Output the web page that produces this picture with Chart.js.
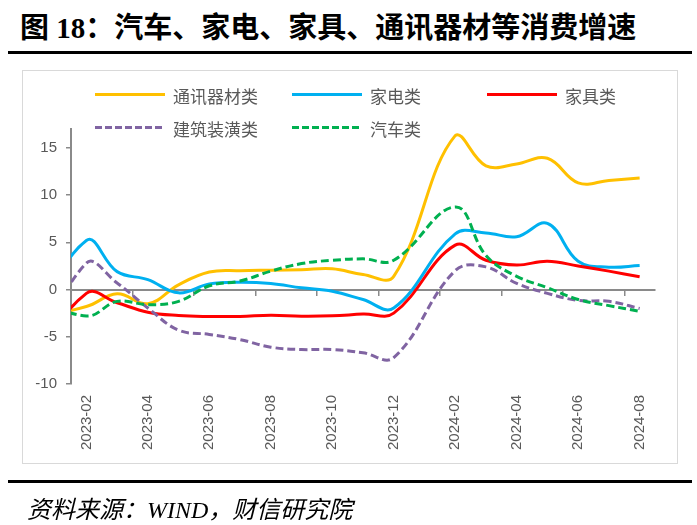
<!DOCTYPE html>
<html>
<head>
<meta charset="utf-8">
<script src="https://cdn.jsdelivr.net/npm/chart.js@4.4.1/dist/chart.umd.min.js"></script>
<style>
  html, body { margin: 0; padding: 0; background: #fff; }
  body { width: 697px; height: 525px; position: relative; overflow: hidden; }
  .title { position: absolute; left: 20px; top: 4px; line-height: 36px; white-space: nowrap;
           font: bold 29px "Liberation Serif", "Noto Sans CJK SC", serif; color: #000; }
  .rule { position: absolute; left: 8px; width: 684px; height: 3px; background: #000; }
  .frame { position: absolute; left: 22px; top: 70px; width: 654px; height: 392px; border: 1px solid #d9d9d9; }
  .chart-wrap { position: absolute; left: 0; top: 0; width: 697px; height: 525px; }
  .legend-line { position: absolute; width: 70px; height: 3px; }
  .legend-text { position: absolute; line-height: 20px; white-space: nowrap;
                 font: 17px "Noto Sans CJK SC", sans-serif; color: #595959; }
  .source { position: absolute; left: 27px; top: 490px; line-height: 30px; white-space: nowrap;
            font: italic 24px "Liberation Serif", "Noto Sans CJK SC", serif; color: #000; }
</style>
</head>
<body>
<div class="title">图 18：汽车、家电、家具、通讯器材等消费增速</div>
<div class="rule" style="top:51px"></div>
<div class="frame"></div>
<div class="chart-wrap"><canvas id="consumeChart"></canvas></div>
<div id="legend"></div>
<div class="rule" style="top:480px"></div>
<div class="source">资料来源：WIND，财信研究院</div>

<script>
// Data (2024-01 has no release, 2022-12 sits left of the axis and is clipped)
const months = ['2022-12', '2023-02', '2023-03', '2023-04', '2023-05', '2023-06', '2023-07',
  '2023-08', '2023-09', '2023-10', '2023-11', '2023-12', '2024-02', '2024-03', '2024-04',
  '2024-05', '2024-06', '2024-07', '2024-08'];
const tickMonths = ['2023-02', '2023-04', '2023-06', '2023-08', '2023-10', '2023-12',
  '2024-02', '2024-04', '2024-06', '2024-08'];
const yTicks = [-10, -5, 0, 5, 10, 15];

const seriesNames = ['通讯器材类', '家电类', '家具类', '建筑装潢类', '汽车类'];
const tongxun = [-3.2, -1.8, -0.45, -1.5, 0.5, 1.85, 2.0, 2.05, 2.1, 2.2, 1.6, 1.4, 16.3, 13.1, 13.3, 13.9, 11.3, 11.55, 11.8];
const jiadian = [-5.5, 5.2, 1.9, 1.05, -0.35, 0.6, 0.78, 0.64, 0.18, -0.18, -1.06, -1.95, 5.9, 6.0, 5.6, 7.0, 3.0, 2.37, 2.54];
const jiaju = [-9.0, -0.4, -1.4, -2.4, -2.75, -2.85, -2.85, -2.72, -2.82, -2.78, -2.6, -2.5, 4.7, 3.1, 2.6, 3.0, 2.5, 1.95, 1.35];
const jianzhu = [-9.5, 2.8, 0.7, -1.95, -4.3, -4.75, -5.3, -6.1, -6.35, -6.35, -6.7, -7.2, 2.0, 2.4, 0.65, -0.4, -1.15, -1.25, -2.0];
const qiche = [-0.4, -2.8, -1.25, -1.6, -1.25, 0.4, 0.9, 1.95, 2.75, 3.1, 3.25, 3.1, 8.75, 3.6, 1.4, 0.2, -1.05, -1.7, -2.3];

// Styles
const seriesValues = [tongxun, jiadian, jiaju, jianzhu, qiche];
const seriesColors = ['#FFC000', '#00B0F0', '#FF0000', '#8064A2', '#00B050'];
const seriesDashed = [false, false, false, true, true];
const axisGray = '#8a8a8a';

// month string -> slot index, 2023-02 = 0
function monthIndex(s) {
  const [y, m] = s.split('-').map(Number);
  return (y - 2023) * 12 + (m - 2);
}

function monthLabel(i) {
  const t = 2023 * 12 + 1 + i;
  return Math.floor(t / 12) + '-' + String(t % 12 + 1).padStart(2, '0');
}

// HTML legend, three per row like the original
function buildLegend() {
  const box = document.getElementById('legend');
  const cols = [95, 292, 487];
  const rows = [95, 128];
  seriesNames.forEach((name, i) => {
    const x = cols[i % 3];
    const y = rows[Math.floor(i / 3)];
    const line = document.createElement('div');
    line.className = 'legend-line';
    line.style.left = x + 'px';
    line.style.top = (y - 2) + 'px';
    line.style.background = seriesDashed[i]
      ? `repeating-linear-gradient(to right, ${seriesColors[i]} 0 7px, transparent 7px 10px)`
      : seriesColors[i];
    const text = document.createElement('div');
    text.className = 'legend-text';
    text.style.left = (x + 78) + 'px';
    text.style.top = (y - 12) + 'px';
    text.textContent = name;
    box.appendChild(line);
    box.appendChild(text);
  });
}

Chart.defaults.font.family = '"Liberation Sans", Arial, sans-serif';

function createChart() {
  const ctx = document.getElementById('consumeChart').getContext('2d');
  return new Chart(ctx, {
    type: 'line',
    data: {
      datasets: seriesNames.map((name, i) => ({
        label: name,
        data: months.map((m, k) => ({ x: monthIndex(m), y: seriesValues[i][k] })),
        borderColor: seriesColors[i],
        backgroundColor: seriesColors[i],
        borderWidth: 3,
        borderDash: seriesDashed[i] ? [8, 4] : [],
        pointRadius: 0,
        tension: 0.4,
        fill: false,
        order: seriesNames.length - i
      }))
    },
    options: {
      responsive: true,
      maintainAspectRatio: false,
      animation: false,
      layout: { padding: { left: 20, top: 129, right: 42, bottom: 61 } },
      plugins: {
        legend: { display: false },
        tooltip: { enabled: false }
      },
      scales: {
        x: {
          type: 'linear',
          position: 'bottom',
          min: -0.5,
          max: 18.5,
          afterBuildTicks: sc => { sc.ticks = tickMonths.map(m => ({ value: monthIndex(m) })); },
          afterFit: sc => { sc.height = 80; },
          grid: { display: false, drawTicks: false },
          border: { display: false },
          ticks: {
            autoSkip: false,
            minRotation: 90,
            maxRotation: 90,
            padding: 11,
            color: '#595959',
            font: { size: 15 },
            callback: v => monthLabel(v)
          }
        },
        // zero line with the small tick marks between label pairs
        x0: {
          type: 'linear',
          axis: 'x',
          position: { y: 0 },
          min: -0.5,
          max: 18.5,
          afterBuildTicks: sc => { sc.ticks = tickMonths.map(m => ({ value: monthIndex(m) - 0.5 })); },
          grid: { drawOnChartArea: false, tickLength: 5, color: axisGray, lineWidth: 1.5 },
          border: { color: axisGray, width: 2 },
          ticks: { display: false }
        },
        y: {
          position: 'left',
          min: -10,
          max: 17,
          afterBuildTicks: sc => { sc.ticks = yTicks.map(v => ({ value: v })); },
          afterFit: sc => { sc.width = 51; },
          grid: { drawOnChartArea: false, tickLength: 5, color: axisGray, lineWidth: 1.5 },
          border: { color: axisGray, width: 2 },
          ticks: { padding: 9, color: '#595959', font: { size: 15 } }
        }
      }
    }
  });
}

buildLegend();
createChart();
</script>
</body>
</html>
